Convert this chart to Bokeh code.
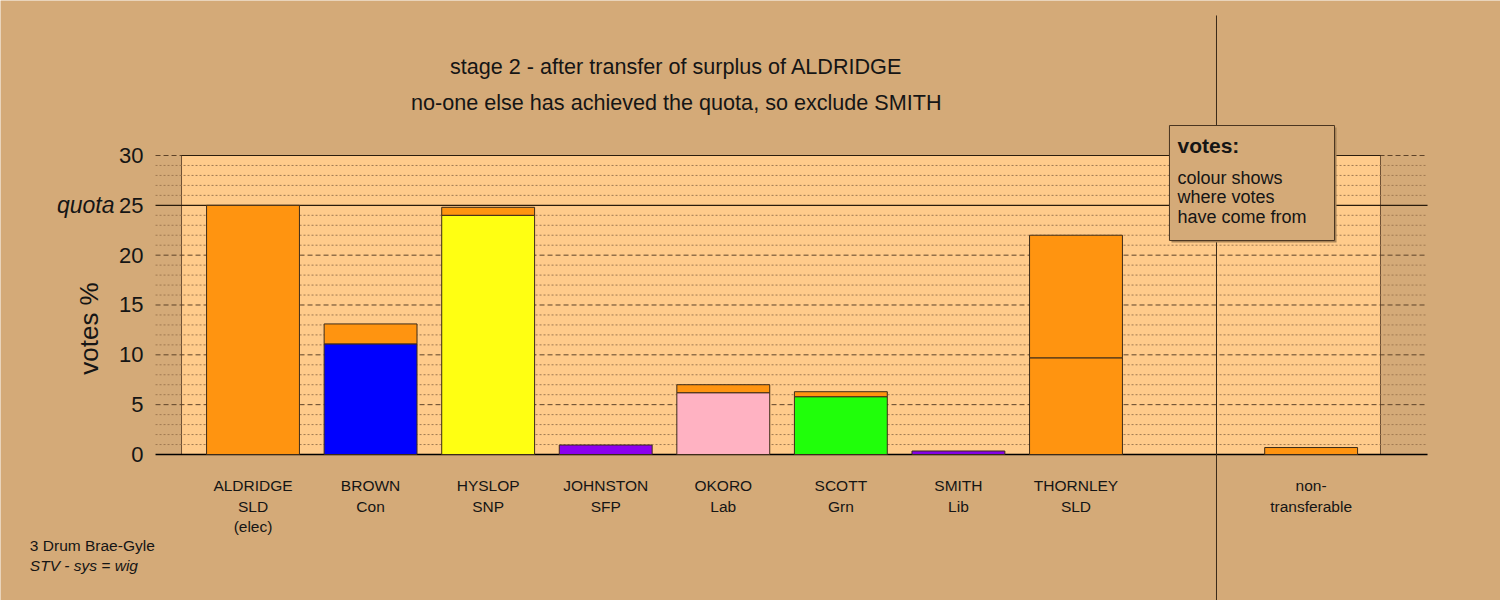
import math
from bokeh.plotting import figure
from bokeh.models import Range1d, FixedTicker, LinearAxis, ColumnDataSource
from bokeh.core.properties import value
from bokeh.embed import file_html
from bokeh.resources import INLINE

# ---------------- data ----------------
title_lines = ["stage 2 - after transfer of surplus of ALDRIDGE",
               "no-one else has achieved the quota, so exclude SMITH"]
candidates = ["ALDRIDGE", "BROWN", "HYSLOP", "JOHNSTON", "OKORO", "SCOTT", "SMITH", "THORNLEY"]
parties = ["SLD", "Con", "SNP", "SFP", "Lab", "Grn", "Lib", "SLD"]
status = ["(elec)", "", "", "", "", "", "", ""]
party_colours = {"SLD": "#FF9410", "Con": "#0000FF", "SNP": "#FFFF12", "SFP": "#8C00F0",
                 "Lab": "#FFB2C2", "Grn": "#20FF0A", "Lib": "#8400E8"}
own_votes = [25.0, 11.1, 24.0, 0.95, 6.2, 5.8, 0.35, 9.7]
transfer_from_aldridge = [0.0, 2.0, 0.8, 0.0, 0.8, 0.5, 0.0, 12.3]
transfer_colour = party_colours["SLD"]
nontransferable_label = ["non-", "transferable"]
non_transferable = [0.7]
quota = 25
y_ticks = [0, 5, 10, 15, 20, 25, 30]
minor_ticks = [i for i in range(1, 31) if i % 5]
legend_title = "votes:"
legend_lines = ["colour shows", "where votes", "have come from"]
footer_lines = ["3 Drum Brae-Gyle", "STV - sys = wig"]
y_label = "votes %"

# ---------------- style ----------------
BG = "#D4AA78"
PANEL = "#FFCB8B"
FONT = "Liberation Sans"
TXT = "#151515"
EDGE = "#3d2b18"

n = len(candidates)
xs = list(range(n))
nt_x = n + 1            # non-transferable column
sep_x = n + 0.195       # separator between candidates and non-transferable
bar_w = 0.79
axis_x = -0.829         # where the value axis sits
grid_end = 9.990
panel_l, panel_r = -0.608, 9.590

p = figure(width=1500, height=600, output_backend="svg", toolbar_location=None,
           x_range=Range1d(-2.1477, 10.6107), y_range=Range1d(-14.649, 45.552),
           x_axis_location=None, min_border_left=0, min_border_right=0,
           min_border_top=0, min_border_bottom=0)
p.background_fill_color = BG
p.border_fill_color = BG
p.outline_line_color = None
p.xgrid.visible = False
p.ygrid.visible = False

# value axis (fixed inside the frame)
p.yaxis.fixed_location = axis_x
p.yaxis.ticker = FixedTicker(ticks=y_ticks)
p.yaxis.axis_line_color = None
p.yaxis.major_tick_line_color = None
p.yaxis.minor_tick_line_color = None
p.yaxis.major_tick_out = 0
p.yaxis.major_tick_in = 0
p.yaxis.major_label_standoff = 12
p.yaxis.major_label_text_font = FONT
p.yaxis.major_label_text_font_size = "22px"
p.yaxis.major_label_text_color = TXT

quota_axis = LinearAxis(fixed_location=axis_x, ticker=FixedTicker(ticks=[quota]),
                        major_label_overrides={quota: "quota"}, axis_line_color=None,
                        major_tick_line_color=None, minor_tick_line_color=None,
                        major_tick_out=0, major_tick_in=0, major_label_standoff=41,
                        major_label_text_font=FONT, major_label_text_font_style="italic",
                        major_label_text_font_size="23px", major_label_text_color=TXT)
p.add_layout(quota_axis, "left")

# panel behind the bars
p.quad(left=[panel_l], right=[panel_r], bottom=[y_ticks[0]], top=[y_ticks[-1]],
       fill_color=PANEL, line_color="#6e5033", line_width=1)

# grid lines
p.segment(x0=axis_x, x1=grid_end, y0=minor_ticks, y1=minor_ticks,
          line_color="#a07a52", line_dash="2 2", line_width=1)
major = [t for t in y_ticks if t not in (0, quota)]
p.segment(x0=axis_x, x1=grid_end, y0=major, y1=major,
          line_color="#5e4329", line_dash="5 3", line_width=1)
p.segment(x0=panel_l, x1=panel_r, y0=[y_ticks[-1]], y1=[y_ticks[-1]],
          line_color="#2a1c0c", line_width=1)
p.segment(x0=axis_x, x1=grid_end, y0=[quota], y1=[quota], line_color="#2a1c0c", line_width=1.3)
p.segment(x0=axis_x, x1=grid_end, y0=[0], y1=[0], line_color="#000000", line_width=1.5)
# separator
p.segment(x0=[sep_x], x1=[sep_x], y0=[44.05], y1=[-14.649], line_color="#3a2a1a", line_width=1)

# bars: own votes
own_src = ColumnDataSource(dict(x=xs, top=own_votes, color=[party_colours[q] for q in parties]))
p.vbar(x="x", width=bar_w, bottom=0, top="top", fill_color="color", line_color=EDGE,
       line_width=1, source=own_src)
# bars: transferred votes
tx = [x for x, t in zip(xs, transfer_from_aldridge) if t > 0]
tb = [o for o, t in zip(own_votes, transfer_from_aldridge) if t > 0]
tt = [o + t for o, t in zip(own_votes, transfer_from_aldridge) if t > 0]
p.vbar(x=tx, width=bar_w, bottom=tb, top=tt, fill_color=transfer_colour, line_color=EDGE, line_width=1)
# non-transferable
p.vbar(x=[nt_x], width=bar_w, bottom=0, top=non_transferable, fill_color=transfer_colour,
       line_color=EDGE, line_width=1)

# legend box
p.quad(left=[7.795 + 0.017], right=[9.199 + 0.017], bottom=[21.47 - 0.2], top=[33.01 - 0.2],
       fill_color="#a88458", line_color=None)
p.quad(left=[7.795], right=[9.199], bottom=[21.47], top=[33.01],
       fill_color=BG, line_color="#4a3520", line_width=1)
p.text(x=[7.863], y=[31.0], text=[legend_title], text_font=value(FONT), text_font_style="bold",
       text_font_size=value("21px"), text_color=TXT, text_align="left", text_baseline="middle")
p.text(x=[7.863] * 3, y=[27.79, 25.79, 23.78], text=legend_lines, text_font=value(FONT),
       text_font_size=value("18px"), text_color=TXT, text_align="left", text_baseline="middle")

# titles
p.text(x=[3.60, 3.60], y=[38.98, 35.27], text=title_lines, text_font=value(FONT),
       text_font_size=value("21.6px"), text_color=TXT, text_align="center", text_baseline="middle")

# category labels
lab_x = xs + [nt_x]
row1 = candidates + [nontransferable_label[0]]
row2 = parties + [nontransferable_label[1]]
row3 = status + [""]
for yv, row in zip([-3.16, -5.18, -7.2], [row1, row2, row3]):
    p.text(x=lab_x, y=[yv] * len(lab_x), text=row, text_font=value(FONT),
           text_font_size=value("15.5px"), text_color=TXT, text_align="center", text_baseline="middle")

# axis title and footer
p.text(x=[-1.395], y=[12.64], text=[y_label], angle=math.pi / 2, text_font=value(FONT),
       text_font_size=value("26px"), text_color=TXT, text_align="center", text_baseline="middle")
p.text(x=[-1.898], y=[-9.13], text=[footer_lines[0]], text_font=value(FONT),
       text_font_size=value("15.5px"), text_color=TXT, text_align="left", text_baseline="middle")
p.text(x=[-1.898], y=[-11.14], text=[footer_lines[1]], text_font=value(FONT), text_font_style="italic",
       text_font_size=value("15.5px"), text_color=TXT, text_align="left", text_baseline="middle")

open("out.html", "w").write(file_html(p, INLINE))
